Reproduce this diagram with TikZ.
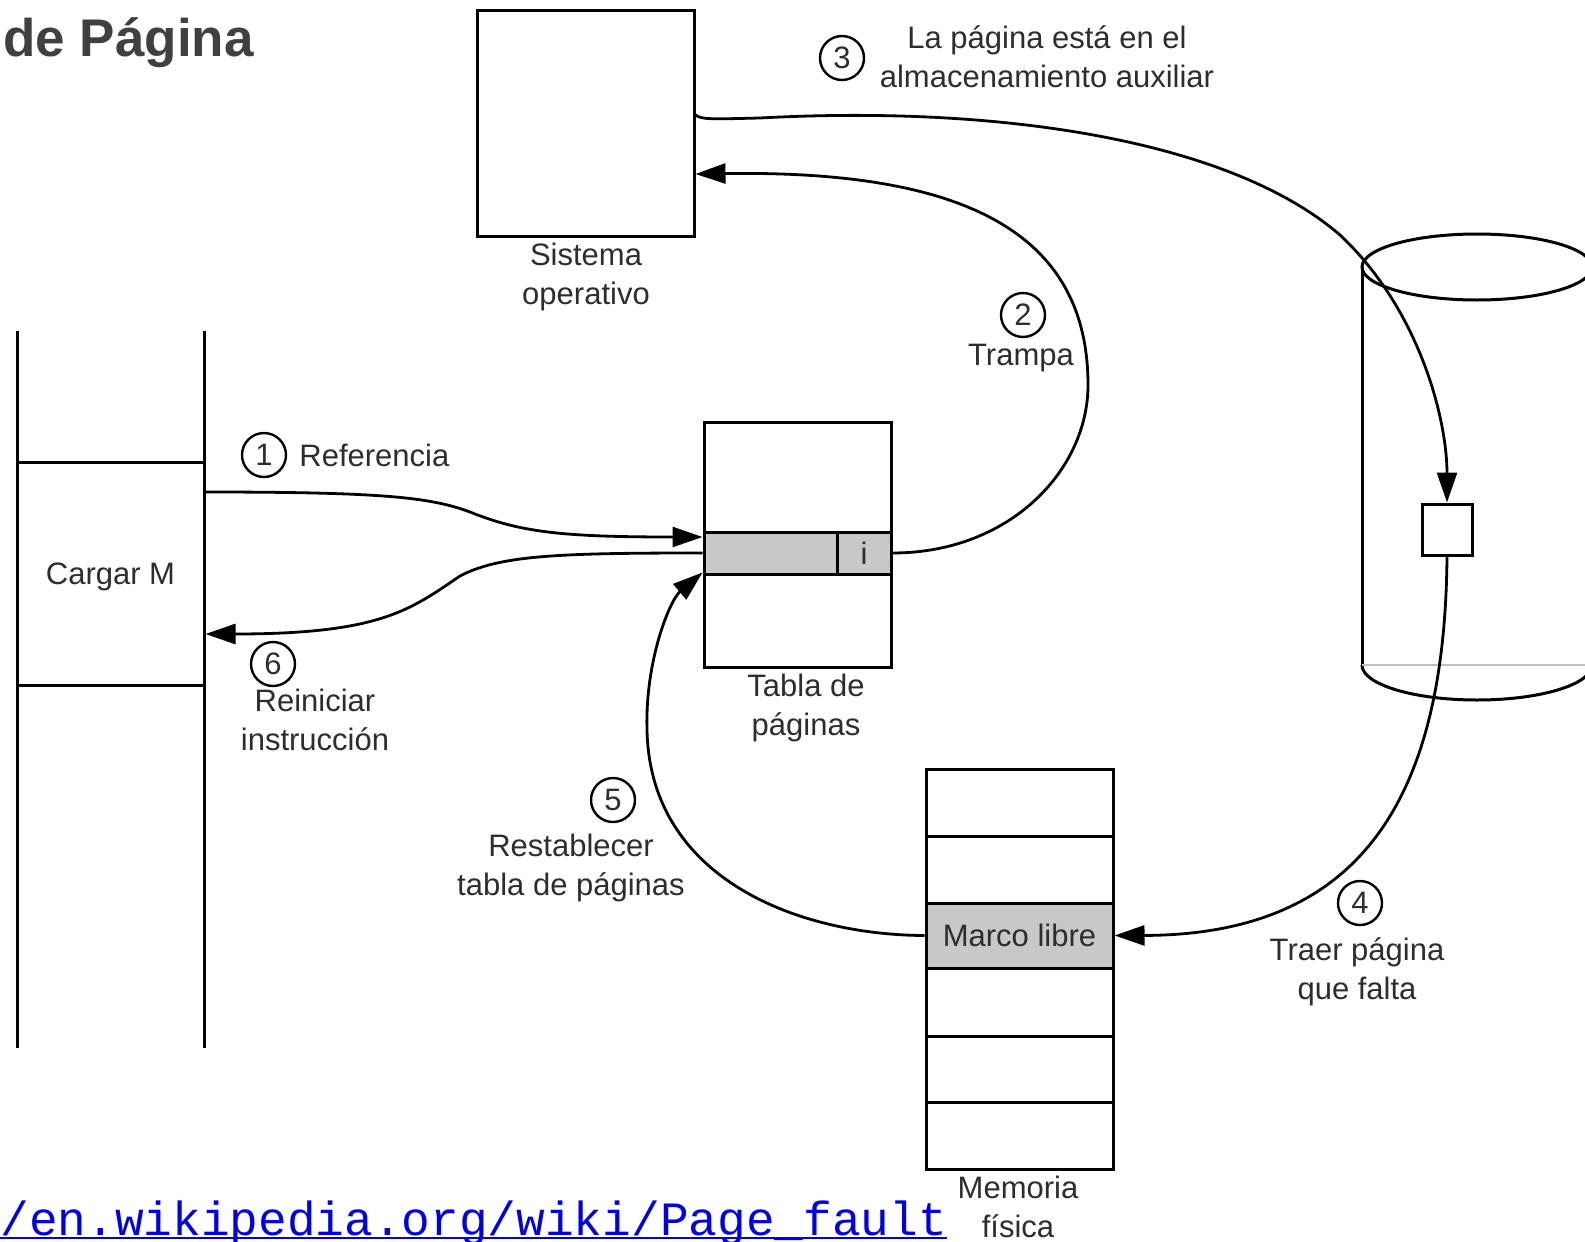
\documentclass[tikz,border=0pt]{standalone}
\usepackage{fontspec}
\setmainfont{Liberation Sans}
\newfontfamily\urlfont{Liberation Mono}
\usetikzlibrary{arrows.meta}

\definecolor{txtgray}{RGB}{45,45,45}
\definecolor{cellgray}{RGB}{200,200,200}
\definecolor{titlegray}{RGB}{64,64,64}
\definecolor{urlblue}{RGB}{0,0,230}

\begin{document}
\begin{tikzpicture}[x=0.5pt,y=-0.5pt,
  ink/.style={draw=black, line width=1.5pt},
  box/.style={ink, rectangle, inner sep=0pt, anchor=center,
    text=txtgray, font=\fontsize{15.5}{19.5}\selectfont},
  shade/.style={box, fill=cellgray},
  lbl/.style={text=txtgray, font=\fontsize{15.5}{19.5}\selectfont,
    align=center, inner sep=0pt},
  num/.style={circle, draw=black, line width=1.2pt, minimum size=22pt,
    inner sep=0pt, text=txtgray, font=\fontsize{15.5}{18}\selectfont},
  link/.style={draw=black, line width=1.4pt,
    -{Triangle[length=15pt,width=10pt]}},
]
\path[use as bounding box] (0,0) rectangle (1585,1242);
\clip (0,0) rectangle (1585,1242);

% title and link
\node[anchor=base west, inner sep=0pt, text=titlegray,
  font=\fontsize{26.5}{30}\selectfont\bfseries] (title) at (3,56) {de Página};
\node[anchor=base west, inner sep=0pt, text=urlblue,
  font=\urlfont\fontsize{23.9}{28}\selectfont] (url) at (0,1235)
  {/en.wikipedia.org/wiki/Page\_fault};
\draw[urlblue, line width=1pt] ([yshift=-1.5pt]url.base west) -- ([yshift=-1.5pt]url.base east);

% operating system
\node[box, minimum width=108.5pt, minimum height=113pt] (so) at (585.5,123) {};
\node[lbl] (solbl) at (586,277) {Sistema\\operativo};

% process stack with the instruction
\draw[ink] (17,331) -- (17,1048);
\draw[ink] (204,331) -- (204,1048);
\node[box, text depth=0pt, minimum width=93.5pt, minimum height=111.5pt] (cargar) at (110.5,573.5) {Cargar M};

% page table
\node[box, minimum width=93.5pt, minimum height=122.5pt] (pt) at (797.5,544.5) {};
\node[shade, minimum width=66.5pt, minimum height=21pt] (row) at (770.5,553) {};
\node[shade, minimum width=27pt, minimum height=21pt] (icell) at (864,553) {i};
\node[lbl] (ptlbl) at (806,708) {Tabla de\\páginas};

% physical memory
\node[box, minimum width=93.5pt, minimum height=200pt] (mem) at (1019.5,969) {};
\draw[ink] (926,836) -- (1113,836);
\draw[ink] (926,1036) -- (1113,1036);
\draw[ink] (926,1102) -- (1113,1102);
\node[shade, minimum width=93.5pt, minimum height=32.5pt] (marco) at (1019.5,935.5) {Marco libre};
\node[lbl] (memlbl) at (1018,1207) {Memoria\\física};

% backing store
\draw[ink] (1362,267) -- (1362,665);
\draw[ink] (1477,267) ellipse [x radius=57.5pt, y radius=16.5pt];
\draw[ink] (1362,665) arc[start angle=180, end angle=360, x radius=57.5pt, y radius=17.5pt];
\draw[black!25, line width=0.8pt] (1362,665) -- (1585,665);
\node[box, fill=white, minimum width=25pt, minimum height=25.5pt] (blk) at (1447,529.5) {};

% steps
\draw[link] ([yshift=40.75pt]cargar.east) .. controls (380,492) and (430,497) .. (470,512)
  .. controls (520,532) and (560,537) .. ([yshift=3.75pt]pt.west);
\draw[link] (icell.east) .. controls (1010,553) and (1088,470) .. (1088,385)
  .. controls (1088,230) and (960,170) .. ([yshift=-25.5pt]so.east);
\draw[link] ([yshift=4pt]so.east) .. controls (702,120) and (715,119) .. (760,118)
  .. controls (1000,105) and (1230,140) .. (1340,235)
  .. controls (1420,310) and (1447,420) .. (blk.north);
\draw[link] (blk.south) .. controls (1445,800) and (1360,935) .. (marco.east);
\draw[link] (marco.west) .. controls (800,935) and (650,880) .. (647,730)
  .. controls (645,660) and (670,600) .. ([yshift=1.5pt]row.south west);
\draw[link] (row.west) .. controls (560,553) and (500,555) .. (460,576)
  .. controls (410,610) and (380,634) .. ([yshift=-30.25pt]cargar.east);

% step labels
\node[num] (n1) at (264,455) {1};
\node[lbl, anchor=west] (l1) at (299,455) {Referencia};
\node[num] (n2) at (1023,315) {2};
\node[lbl] (l2) at (1021,358) {Trampa};
\node[num] (n3) at (842,58) {3};
\node[lbl] (l3) at (1047,57) {La página está en el\\almacenamiento auxiliar};
\node[num] (n4) at (1360,903) {4};
\node[lbl] (l4) at (1357,972) {Traer página\\que falta};
\node[num] (n5) at (613,800) {5};
\node[lbl] (l5) at (571,868) {Restablecer\\tabla de páginas};
\node[num] (n6) at (273,664) {6};
\node[lbl] (l6) at (315,720) {Reiniciar\\instrucción};
\end{tikzpicture}
\end{document}
